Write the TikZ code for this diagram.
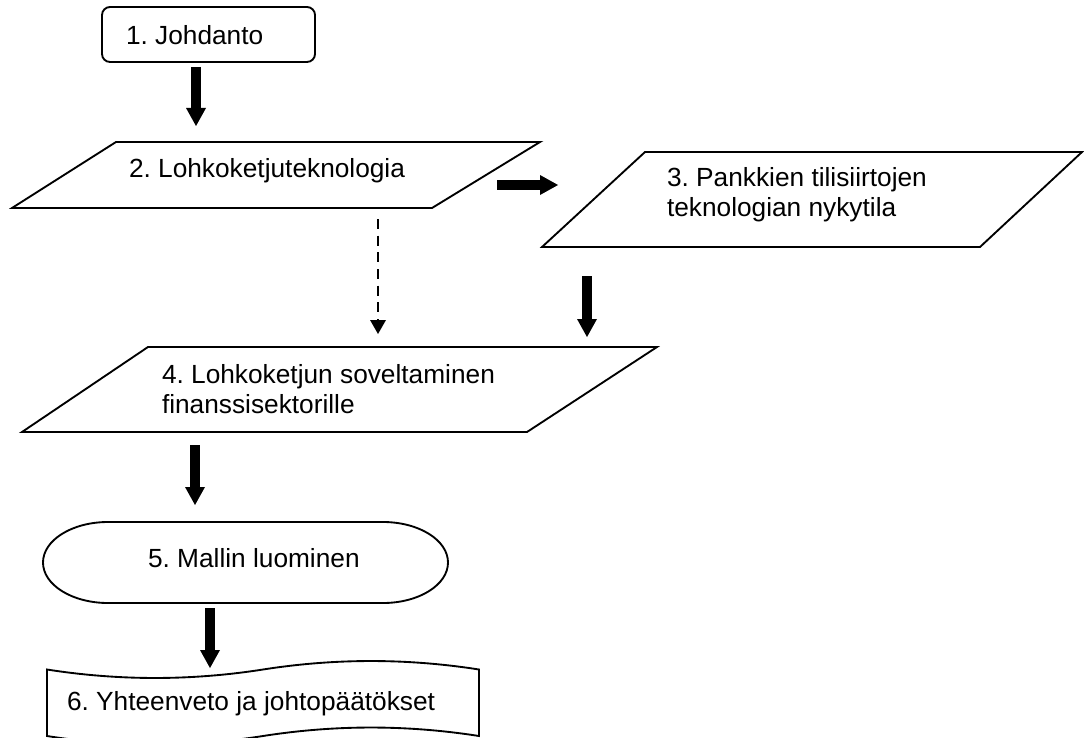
\documentclass[tikz,border=0pt]{standalone}
\usepackage{fontspec}
\setmainfont{Liberation Sans}
\usetikzlibrary{arrows.meta,calc}
\frenchspacing
\tikzset{
  txt/.style={font=\fontsize{19.7pt}{22.5pt}\selectfont, inner sep=0pt, outer sep=0pt, anchor=base west},
  frame/.style={inner sep=0pt, outer sep=0pt, minimum width=#1},
  outline/.style={draw=black, line width=1.4pt, line join=miter},
  barrow/.style={line width=8pt, -{Triangle[length=13.5pt,width=15pt,line width=0pt]}},
  darrow/.style={line width=2pt, dash pattern=on 7.5pt off 5pt, -{Triangle[length=10.5pt,width=12pt,line width=0pt]}}
}
\begin{document}
\begin{tikzpicture}[x=0.75pt,y=-0.75pt]
\useasboundingbox (0,0) rectangle (1084,738);
\clip (0,0) rectangle (1084,738);

% 1. rounded box
\node[outline, rounded corners=6pt, inner sep=0pt, minimum width=159.75pt, minimum height=41.25pt] (n1) at (208.5,34.5) {};
\node[txt] (t1) at (126,45) {1. Johdanto};

% 2. parallelogram
\node[frame=396pt, minimum height=49.5pt] (p2) at (276,175) {};
\draw[outline] (p2.south west) -- ($(p2.north west)+(104,0)$) -- (p2.north east) -- ($(p2.south east)+(-108,0)$) -- cycle;
\node[txt] (t2) at (129,177) {2. Lohkoketjuteknologia};

% 3. parallelogram
\node[frame=405pt, minimum height=71.25pt] (p3) at (812,199.5) {};
\draw[outline] (p3.south west) -- ($(p3.north west)+(103,0)$) -- (p3.north east) -- ($(p3.south east)+(-102,0)$) -- cycle;
\node[txt] (t3a) at (667,186) {3. Pankkien tilisiirtojen};
\node[txt] (t3b) at (667,216) {teknologian nykytila};

% 4. parallelogram
\node[frame=476.25pt, minimum height=63.75pt] (p4) at (339.5,389.5) {};
\draw[outline] (p4.south west) -- ($(p4.north west)+(126,0)$) -- (p4.north east) -- ($(p4.south east)+(-130,0)$) -- cycle;
\node[txt] (t4a) at (162,383) {4. Lohkoketjun soveltaminen};
\node[txt] (t4b) at (162,413) {finanssisektorille};

% 5. terminator
\node[frame=303.75pt, minimum height=60.75pt] (n5) at (245.5,562.5) {};
\draw[outline] ($(n5.north west)+(65,0)$) -- ($(n5.north east)+(-65,0)$)
  arc[start angle=90, end angle=-90, x radius=48.75pt, y radius=30.375pt]
  -- ($(n5.south west)+(65,0)$)
  arc[start angle=270, end angle=90, x radius=48.75pt, y radius=30.375pt] -- cycle;
\node[txt] (t5) at (148,567) {5. Mallin luominen};

% 6. punched tape
\node[frame=324pt, minimum height=49.875pt] (n6) at (263,702.75) {};
\draw[outline] (n6.north west)
  .. controls ($(n6.north west)+(72,11.3)$) and ($(n6.north west)+(144,11.3)$) .. ($(n6.north west)+(216,0)$)
  .. controls ($(n6.north west)+(288,-11.3)$) and ($(n6.north west)+(360,-11.3)$) .. (n6.north east)
  -- (n6.south east)
  .. controls ($(n6.south west)+(360,-11.3)$) and ($(n6.south west)+(288,-11.3)$) .. ($(n6.south west)+(216,0)$)
  .. controls ($(n6.south west)+(144,11.3)$) and ($(n6.south west)+(72,11.3)$) .. (n6.south west)
  -- cycle;
\node[txt] (t6) at (67,710) {6. Yhteenveto ja johtopäätökset};

% connectors
\draw[barrow] ($(n1.south)+(-12.5,4)$) -- ($(p2.north)+(-80,-16)$);
\draw[barrow] ($(p2.east)+(-43,10)$) -- ($(p3.west)+(16,-14.5)$);
\draw[darrow] ($(p2.south)+(102,11)$) -- ($(p4.north)+(38.5,-13)$);
\draw[barrow] ($(p3.south)+(-225,29)$) -- ($(p4.north)+(247.5,-10)$);
\draw[barrow] ($(p4.south)+(-144.5,13)$) -- ($(n5.north)+(-50.5,-17)$);
\draw[barrow] ($(n5.south)+(-35.5,5)$) -- ($(n6.north)+(-53,-1.5)$);
\end{tikzpicture}
\end{document}
